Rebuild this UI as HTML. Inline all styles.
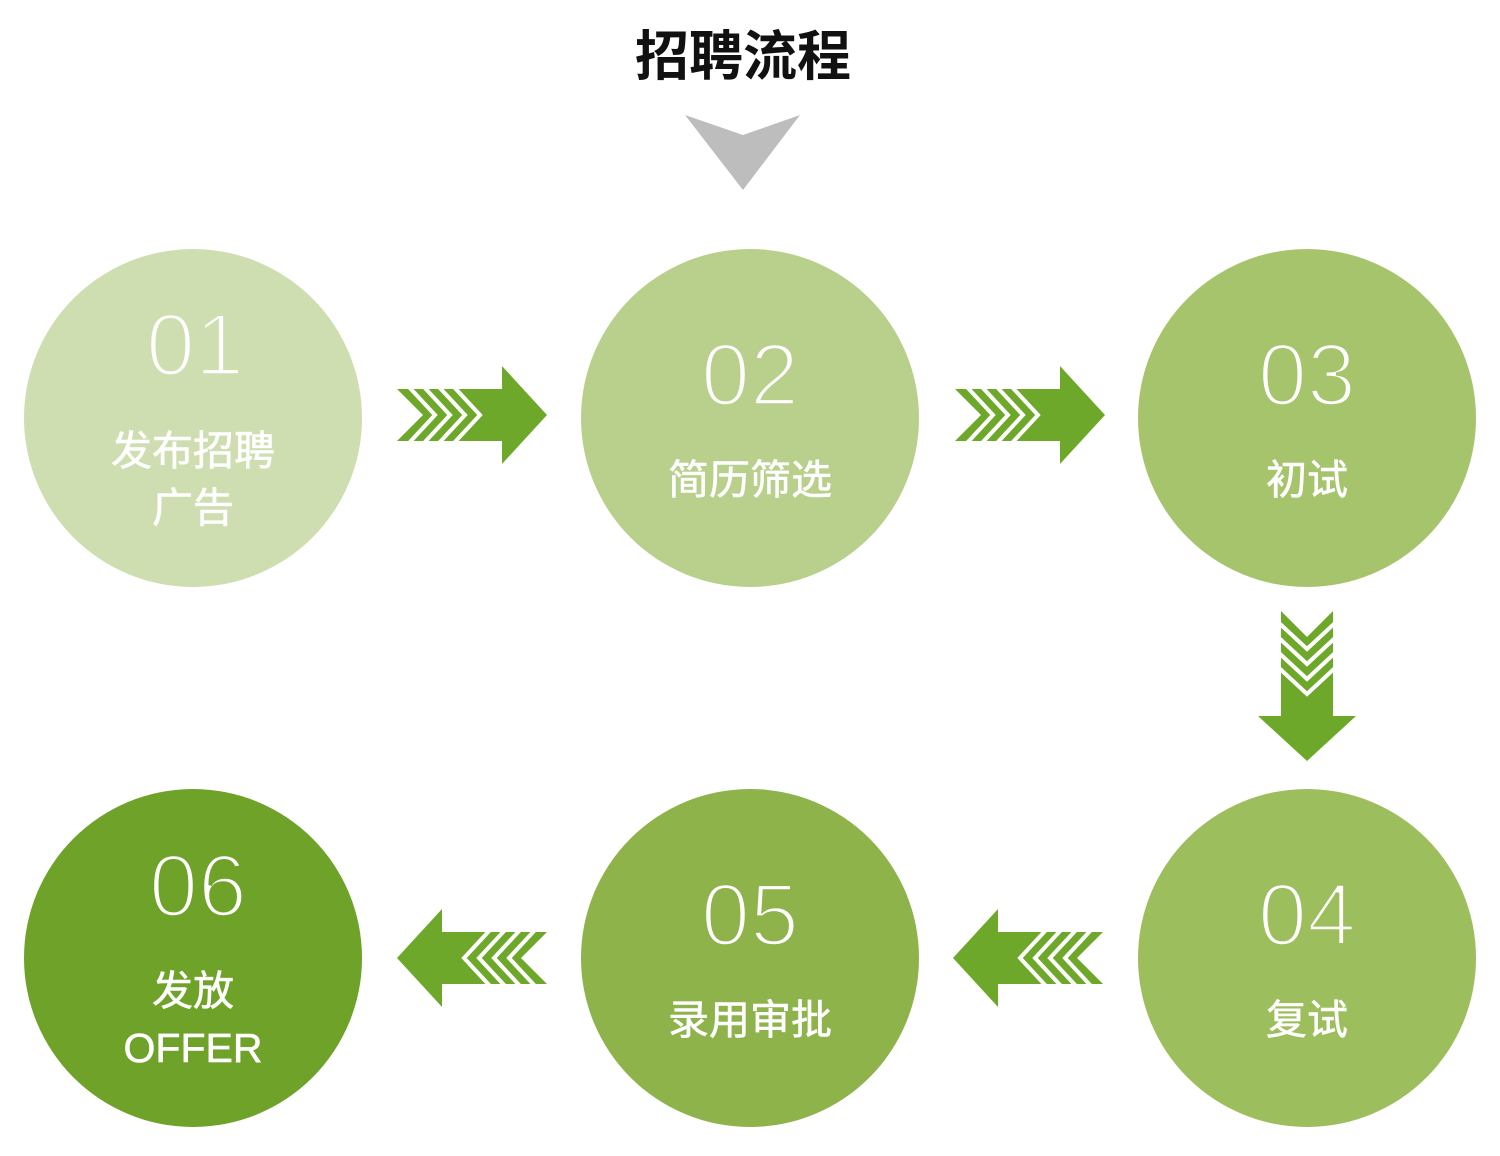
<!DOCTYPE html>
<html><head><meta charset="utf-8"><style>
html,body{margin:0;padding:0;background:#fff;}
svg{display:block}
</style></head><body>
<svg width="1500" height="1156" viewBox="0 0 1500 1156" xmlns="http://www.w3.org/2000/svg">
<defs>
<g id="arr">
<polygon points="0,-26 105,-26 105,-49 150,0 105,49 105,26 0,26 26,0" fill="#6ea82b"/>
<g fill="none" stroke="#fff" stroke-width="4">
<polyline points="12,-28 38,0 12,28"/>
<polyline points="27,-28 53,0 27,28"/>
<polyline points="42,-28 68,0 42,28"/>
<polyline points="57,-28 83,0 57,28"/>
</g>
</g>
</defs>
<text x="743" y="75" text-anchor="middle" font-family="'Liberation Sans','Noto Sans CJK SC',sans-serif" font-size="54" font-weight="bold" fill="#111">招聘流程</text>
<polygon points="685,115 743,135 800,115 743,190" fill="#bdbdbd"/>

<circle cx="193" cy="418" r="169" fill="#cfdeb0"/>
<circle cx="750" cy="418" r="169" fill="#b9d08c"/>
<circle cx="1307" cy="418" r="169" fill="#a6c46c"/>
<circle cx="1307" cy="958" r="169" fill="#9dbe5c"/>
<circle cx="750" cy="958" r="169" fill="#8db34a"/>
<circle cx="193" cy="958" r="169" fill="#6fa229"/>

<use href="#arr" transform="translate(397,415)"/>
<use href="#arr" transform="translate(955,415)"/>
<use href="#arr" transform="translate(1307,611) rotate(90)"/>
<use href="#arr" transform="translate(1103,958) rotate(180)"/>
<use href="#arr" transform="translate(547,958) rotate(180)"/>

<g font-family="'Liberation Sans',sans-serif" font-size="88" fill="#fff" text-anchor="middle" stroke-width="3.5">
<text x="195" y="375" stroke="#cfdeb0">01</text>
<text x="750" y="405" stroke="#b9d08c">02</text>
<text x="1307" y="405" stroke="#a6c46c">03</text>
<text x="1307" y="945" stroke="#9dbe5c">04</text>
<text x="750" y="945" stroke="#8db34a">05</text>
<text x="198" y="916" stroke="#6fa229">06</text>
</g>
<g font-family="'Liberation Sans','Noto Sans CJK SC',sans-serif" font-size="41" fill="#fff" text-anchor="middle" stroke="#fff" stroke-width="0.6">
<text x="193" y="465">发布招聘</text>
<text x="193" y="522">广告</text>
<text x="750" y="494">简历筛选</text>
<text x="1307" y="494">初试</text>
<text x="1307" y="1034">复试</text>
<text x="750" y="1034">录用审批</text>
<text x="193" y="1005">发放</text>
<text x="193" y="1062">OFFER</text>
</g>
</svg>
</body></html>
